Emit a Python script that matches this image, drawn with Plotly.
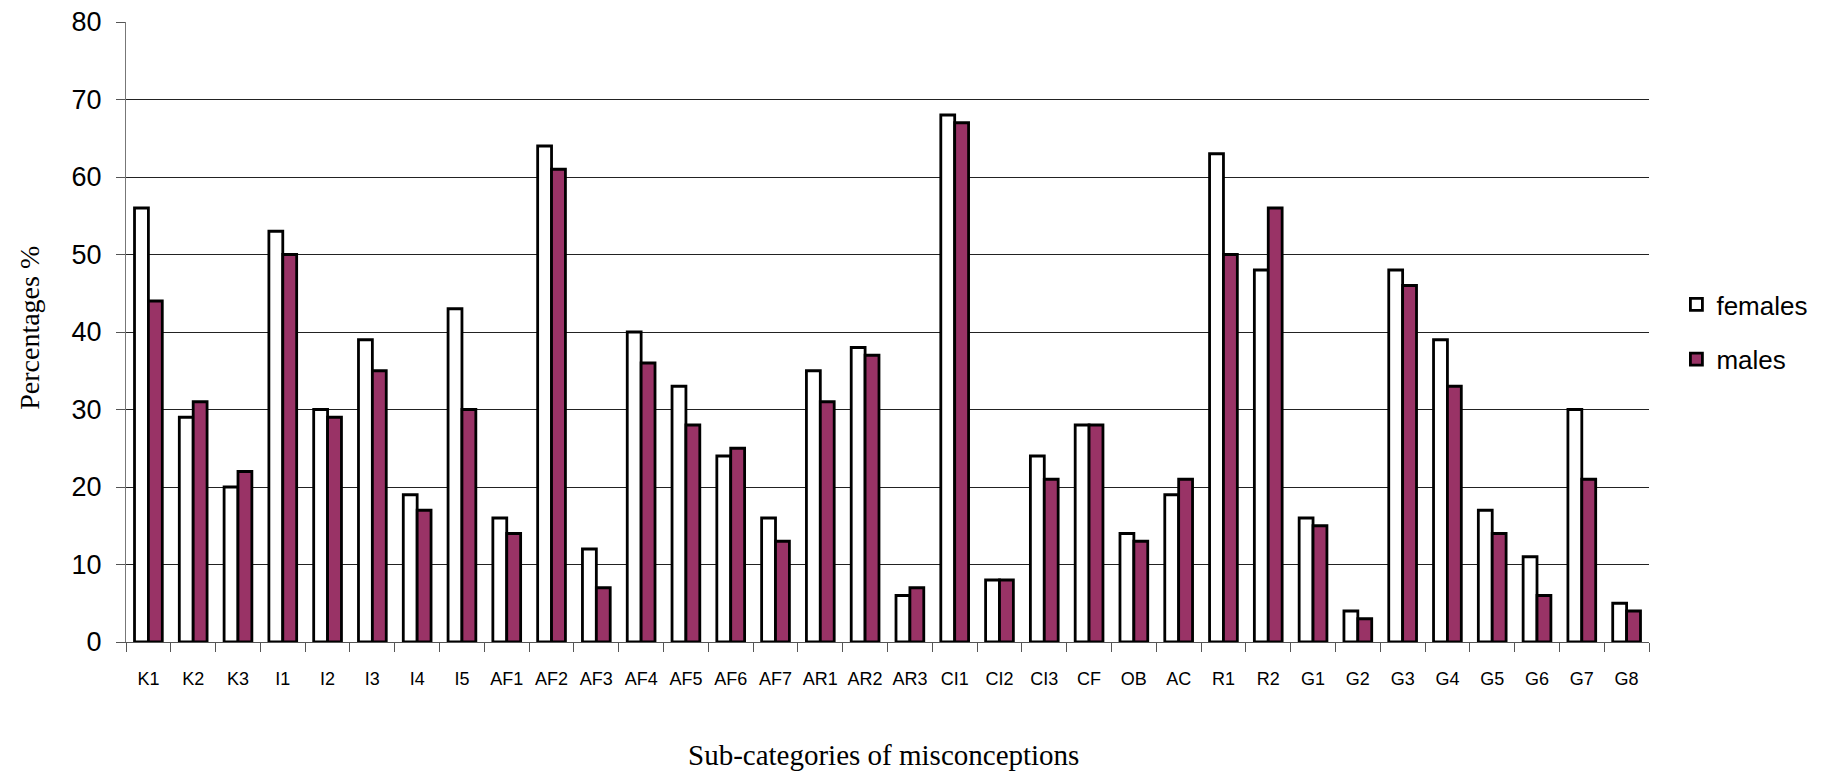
import plotly.graph_objects as go

categories = ["K1", "K2", "K3", "I1", "I2", "I3", "I4", "I5", "AF1", "AF2", "AF3", "AF4",
              "AF5", "AF6", "AF7", "AR1", "AR2", "AR3", "CI1", "CI2", "CI3", "CF", "OB", "AC",
              "R1", "R2", "G1", "G2", "G3", "G4", "G5", "G6", "G7", "G8"]
females = [56, 29, 20, 53, 30, 39, 19, 43, 16, 64, 12, 40,
           33, 24, 16, 35, 38, 6, 68, 8, 24, 28, 14, 19,
           63, 48, 16, 4, 48, 39, 17, 11, 30, 5]
males = [44, 31, 22, 50, 29, 35, 17, 30, 14, 61, 7, 36,
         28, 25, 13, 31, 37, 7, 67, 8, 21, 28, 13, 21,
         50, 56, 15, 3, 46, 33, 14, 6, 21, 4]
y_ticks = [0, 10, 20, 30, 40, 50, 60, 70, 80]

# page body has an 8px default margin, so the figure is 8px smaller and offset
OFF = 8
W, H = 1840 - OFF, 773 - OFF
L, R, T, B = 125.5 - OFF, 1649 - OFF, 21.5 - OFF, 642 - OFF

fig = go.Figure()
fig.add_trace(go.Bar(x=categories, y=females, name="females",
                     marker=dict(color="white", line=dict(color="black", width=2.8)),
                     legendgroup="f"))
fig.add_trace(go.Bar(x=categories, y=males, name="males",
                     marker=dict(color="#993366", line=dict(color="black", width=2.8)),
                     legendgroup="m"))

fig.update_layout(
    width=W, height=H,
    margin=dict(l=L, r=W - R, t=T, b=H - B, pad=0, autoexpand=False),
    paper_bgcolor="white", plot_bgcolor="white",
    barmode="group", bargap=0.38, bargroupgap=0,
    font=dict(family="Liberation Sans, Arial, sans-serif", color="black"),
    showlegend=True,
    legend=dict(x=1.018, xanchor="left", y=0.5, yanchor="middle",
                font=dict(size=26, family="Liberation Sans, Arial, sans-serif"),
                tracegroupgap=18, bgcolor="rgba(0,0,0,0)"),
    xaxis=dict(type="category", tickson="boundaries", ticks="outside", ticklen=9,
               tickcolor="#555", tickwidth=1, showline=True, linecolor="#555", linewidth=1,
               showgrid=False, tickfont=dict(size=18), ticklabelstandoff=20,
               automargin=False, range=[-0.5, len(categories) - 0.5]),
    yaxis=dict(range=[0, 80], tickvals=y_ticks, ticks="outside", ticklen=9,
               tickcolor="#555", tickwidth=1, showline=True, linecolor="#777", linewidth=1,
               showgrid=True, gridcolor="#222", gridwidth=1, zeroline=False,
               tickfont=dict(size=27), ticklabelstandoff=9, automargin=False,
               ticklabeloverflow="allow"),
    annotations=[
        dict(text="Percentages %", xref="paper", yref="paper",
             x=(29 - OFF - L) / (R - L), y=(B - (328 - OFF)) / (B - T), textangle=-90,
             showarrow=False, font=dict(family="Liberation Serif, Times New Roman, serif", size=28),
             xanchor="center", yanchor="middle"),
        dict(text="Sub-categories of misconceptions", xref="paper", yref="paper",
             x=(883 - OFF - L) / (R - L), y=(B - (755 - OFF)) / (B - T),
             showarrow=False, font=dict(family="Liberation Serif, Times New Roman, serif", size=29),
             xanchor="center", yanchor="middle"),
    ],
    shapes=[dict(type="line", xref="paper", yref="y", x0=0.001, x1=1, y0=80, y1=80,
                 line=dict(color="white", width=2), layer="between")],
)

fig.write_html("out.html")
